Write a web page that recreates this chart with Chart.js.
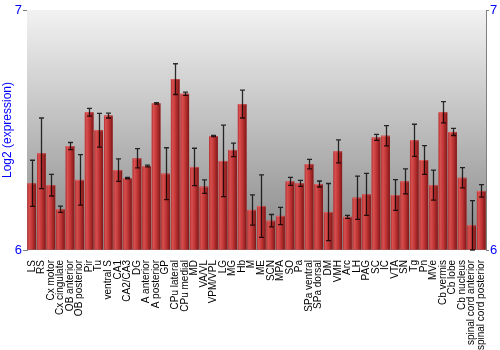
<!DOCTYPE html>
<html>
<head>
<meta charset="utf-8">
<script src="https://cdn.jsdelivr.net/npm/chart.js@4"></script>
<style>
html,body{margin:0;padding:0;background:#fff;}
#wrap{width:500px;height:350px;}
</style>
</head>
<body>
<div id="wrap"><canvas id="c" width="500" height="350"></canvas></div>
<script>
const categories = ["LS","RS","Cx motor","Cx cingulate","OB anterior","OB posterior","Pir","Tu","ventral S","CA1","CA2/CA3","DG","A anterior","A posterior","GP","CPu lateral","CPu medial","MD","VA/VL","VPM/VPL","LG","MG","Hb","M","ME","SCN","MPA","SO","Pa","SPa ventral","SPa dorsal","DM","VMH","Arc","LH","PAG","SC","IC","VTA","SN","Tg","Pn","MVe","Cb vermis","Cb lobe","Cb nucleus","spinal cord anterior","spinal cord posterior"];
const values = [6.278,6.403,6.270,6.170,6.433,6.292,6.574,6.499,6.560,6.333,6.299,6.382,6.350,6.611,6.318,6.712,6.651,6.346,6.264,6.475,6.371,6.417,6.608,6.167,6.183,6.122,6.142,6.286,6.278,6.358,6.275,6.158,6.411,6.138,6.218,6.232,6.469,6.476,6.229,6.286,6.457,6.375,6.270,6.574,6.492,6.301,6.103,6.246];
const errors = [0.096,0.147,0.045,0.013,0.015,0.105,0.016,0.070,0.010,0.047,0.003,0.040,0.004,0.003,0.108,0.064,0.007,0.078,0.028,0.002,0.149,0.028,0.058,0.063,0.130,0.026,0.036,0.017,0.0125,0.020,0.0125,0.119,0.048,0.006,0.090,0.0875,0.0125,0.042,0.064,0.052,0.067,0.060,0.0625,0.044,0.015,0.042,0.103,0.026];
const yTicks = [6,7];
const yMin = 6, yMax = 7;

const blue = '#0000ff';
const tickFont = {family:'"Liberation Sans", Arial, sans-serif', size:13};

const bgPlugin = {
  id:'bg',
  beforeDatasetsDraw(chart){
    const {ctx, chartArea:a} = chart;
    const g = ctx.createLinearGradient(0,a.top,0,a.bottom);
    g.addColorStop(0,'#f2f2f2');
    g.addColorStop(1,'#868686');
    ctx.save();
    ctx.fillStyle = g;
    ctx.fillRect(a.left,a.top,a.right-a.left,a.bottom-a.top);
    ctx.restore();
  }
};

const barPlugin = {
  id:'barsfx',
  afterDatasetsDraw(chart){
    const {ctx} = chart;
    const meta = chart.getDatasetMeta(0);
    const ys = chart.scales.y;
    ctx.save();
    meta.data.forEach((bar,i)=>{
      const w = bar.width, x0 = bar.x - w/2;
      const top = bar.y, base = bar.base;
      const g = ctx.createLinearGradient(x0,0,x0+w,0);
      g.addColorStop(0,'#b83232');
      g.addColorStop(0.2,'#d65050');
      g.addColorStop(0.55,'#c03434');
      g.addColorStop(1,'#7e1818');
      ctx.fillStyle = g;
      ctx.fillRect(x0, top, w, base-top);
      ctx.fillStyle = 'rgba(255,150,150,0.35)';
      ctx.fillRect(x0, top, w, 1);
    });
    ctx.strokeStyle = 'rgba(0,0,0,0.8)';
    ctx.lineWidth = 1.3;
    meta.data.forEach((bar,i)=>{
      const yHi = ys.getPixelForValue(values[i]+errors[i]);
      const yLo = ys.getPixelForValue(values[i]-errors[i]);
      const x = Math.round(bar.x)+0.5;
      const cap = 2.5;
      ctx.beginPath();
      ctx.moveTo(x,yHi); ctx.lineTo(x,yLo);
      ctx.moveTo(x-cap,yHi); ctx.lineTo(x+cap,yHi);
      ctx.moveTo(x-cap,yLo); ctx.lineTo(x+cap,yLo);
      ctx.stroke();
    });
    ctx.restore();
  }
};

new Chart(document.getElementById('c'),{
  type:'bar',
  data:{
    labels:categories,
    datasets:[{data:values, backgroundColor:'#b83232', borderWidth:0, barPercentage:0.9, categoryPercentage:1.0, base:yMin}]
  },
  options:{
    responsive:false,
    animation:false,
    devicePixelRatio:1,
    layout:{padding:{top:10,left:0,right:0,bottom:0}},
    plugins:{legend:{display:false}, tooltip:{enabled:false}},
    scales:{
      x:{
        offset:true,
        grid:{display:false},
        border:{display:false},
        ticks:{
          autoSkip:false, minRotation:90, maxRotation:90, padding:2,
          color:'#000', font:{family:'"Liberation Sans", Arial, sans-serif', size:10}
        },
        afterFit(s){ s.height = 100; }
      },
      y:{
        min:yMin, max:yMax,
        afterBuildTicks(s){ s.ticks = yTicks.map(v=>({value:v})); },
        grid:{display:true, drawOnChartArea:false, drawTicks:true, tickLength:4, color:'#808080'},
        border:{display:true, color:'#808080', width:1},
        ticks:{color:blue, font:tickFont, padding:1},
        title:{display:true, text:'Log2 (expression)', color:blue, font:{family:'"Liberation Sans", Arial, sans-serif', size:12}, padding:{top:0,bottom:0}},
        afterFit(s){ s.width = 27; }
      },
      y2:{
        position:'right',
        min:yMin, max:yMax,
        afterBuildTicks(s){ s.ticks = yTicks.map(v=>({value:v})); },
        grid:{display:true, drawOnChartArea:false, drawTicks:true, tickLength:3, color:'#808080'},
        border:{display:true, color:'#808080', width:1},
        ticks:{color:blue, font:tickFont, padding:1},
        afterFit(s){ s.width = 14; }
      }
    }
  },
  plugins:[bgPlugin, barPlugin]
});
</script>
</body>
</html>
